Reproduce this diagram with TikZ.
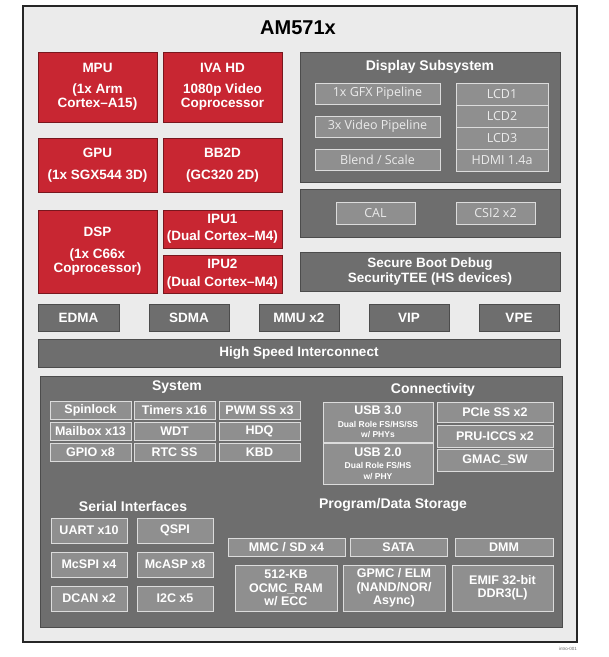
\documentclass[tikz,border=0pt]{standalone}
\usepackage{fontspec}
\setmainfont{Liberation Sans}
\newfontfamily\dispfont{Open Sans}
\newcommand{\usbsmall}{\fontsize{8.5}{9}\selectfont}
\definecolor{tired}{RGB}{200,38,50}
\definecolor{chipbg}{RGB}{235,235,235}
\definecolor{panelgray}{RGB}{110,110,110}
\definecolor{cellgray}{RGB}{143,143,143}
\definecolor{cellline}{RGB}{220,220,220}
\begin{document}
\begin{tikzpicture}[x=1pt,y=-1pt,
  wh/.style 2 args={minimum width=#1pt, minimum height=#2pt},
  frame/.style={draw=black!85, fill=chipbg, line width=1.2pt, inner sep=0pt},
  redbox/.style={draw=tired!60!black, fill=tired, text=white, line width=0.6pt, inner sep=0pt, align=center, font=\bfseries\fontsize{13.5}{14.5}\selectfont},
  panel/.style={draw=black!70, fill=panelgray, line width=0.7pt, inner sep=0pt, text=white, align=center, font=\bfseries\fontsize{13.5}{14.5}\selectfont},
  ptitle/.style={text=white, inner sep=0pt, font=\bfseries\fontsize{14}{15}\selectfont},
  cell/.style={draw=cellline, fill=cellgray, line width=0.9pt, inner sep=0pt, text=white, align=center, font=\bfseries\fontsize{12.5}{13.5}\selectfont},
  dcell/.style={cell, text=white!92!black, font=\dispfont\fontsize{12.5}{13}\selectfont}
]
\useasboundingbox (0,0) rectangle (609,657);

% chip outline
\node[frame, wh={554}{636}] (chip) at (300,324) {};
\node[inner sep=0pt, font=\bfseries\fontsize{20}{22}\selectfont] (name) at (298,28) {AM571x};

% cores
\node[redbox, wh={119}{70}] (mpu) at (97.5,87) {MPU\\[6pt](1x Arm\\Cortex--A15)};
\node[redbox, wh={119}{70}] (iva) at (222.5,87) {IVA HD\\[6pt]1080p Video\\Coprocessor};
\node[redbox, wh={119}{54}] (gpu) at (97.5,165) {GPU\\[7pt](1x SGX544 3D)};
\node[redbox, wh={119}{54}] (bb2d) at (222.5,165) {BB2D\\[7pt](GC320 2D)};
\node[redbox, wh={119}{83}] (dsp) at (97.5,251.5) {DSP\\[7pt](1x C66x\\Coprocessor)};
\node[redbox, wh={119}{38}] (ipu1) at (222.5,229) {IPU1\\[3pt](Dual Cortex--M4)};
\node[redbox, wh={119}{38}] (ipu2) at (222.5,274) {IPU2\\[3pt](Dual Cortex--M4)};

% display and camera
\node[panel, wh={260}{130}] (dss) at (430,117) {};
\node[ptitle] (dssT) at (430,67) {Display Subsystem};
\node[dcell, wh={125}{21}] (gfx) at (377.5,93.5) {1x GFX Pipeline};
\node[dcell, wh={125}{21}] (vid) at (377.5,126.5) {3x Video Pipeline};
\node[dcell, wh={125}{21}] (blend) at (377.5,159.5) {Blend / Scale};
\node[dcell, wh={92}{22}] (lcd1) at (502,94) {LCD1};
\node[dcell, wh={92}{22}] (lcd2) at (502,116) {LCD2};
\node[dcell, wh={92}{22}] (lcd3) at (502,138) {LCD3};
\node[dcell, wh={92}{22}] (hdmi) at (502,160) {HDMI 1.4a};
\node[panel, wh={260}{48}] (cam) at (430,213) {};
\node[dcell, wh={79}{22}] (cal) at (375.5,213) {CAL};
\node[dcell, wh={79}{22}] (csi) at (495.5,213) {CSI2 x2};
\node[panel, wh={260}{39}] (sec) at (430,271.5) {Secure Boot Debug\\SecurityTEE (HS devices)};

% dma row and interconnect
\node[panel, wh={81}{27}] (edma) at (78.5,317.5) {EDMA};
\node[panel, wh={80}{27}] (sdma) at (189,317.5) {SDMA};
\node[panel, wh={80}{27}] (mmu) at (299,317.5) {MMU x2};
\node[panel, wh={80}{27}] (vip) at (409,317.5) {VIP};
\node[panel, wh={80}{27}] (vpe) at (519,317.5) {VPE};
\node[panel, wh={522}{28}] (hsi) at (299,353) {High Speed Interconnect};

% peripherals
\node[panel, wh={522}{251}] (per) at (301,501.5) {};

\node[ptitle] (sysT) at (177,387) {System};
\node[cell, wh={81}{18}] (spin) at (90.5,410) {Spinlock};
\node[cell, wh={81}{18}] (tmr) at (174.5,410) {Timers x16};
\node[cell, wh={81}{18}] (pwm) at (259.5,410) {PWM SS x3};
\node[cell, wh={81}{18}] (mbox) at (90.5,431.5) {Mailbox x13};
\node[cell, wh={81}{18}] (wdt) at (174.5,431.5) {WDT};
\node[cell, wh={81}{18}] (hdq) at (259.5,431.5) {HDQ};
\node[cell, wh={81}{18}] (gpio) at (90.5,452.5) {GPIO x8};
\node[cell, wh={81}{18}] (rtc) at (174.5,452.5) {RTC SS};
\node[cell, wh={81}{18}] (kbd) at (259.5,452.5) {KBD};

\node[ptitle] (conT) at (433,390) {Connectivity};
\node[cell, wh={110}{40}] (usb3) at (378,422) {USB 3.0\\[-1pt]\usbsmall Dual Role FS/HS/SS\\[-3pt]\usbsmall w/ PHYs};
\node[cell, wh={110}{41}] (usb2) at (378,463.5) {USB 2.0\\[-1pt]\usbsmall Dual Role FS/HS\\[-3pt]\usbsmall w/ PHY};
\node[cell, wh={116}{20}] (pcie) at (495,412) {PCIe SS x2};
\node[cell, wh={116}{22}] (pru) at (495,436) {PRU-ICCS x2};
\node[cell, wh={116}{22}] (gmac) at (495,460) {GMAC\_SW};

\node[ptitle] (serT) at (133,506) {Serial Interfaces};
\node[cell, wh={76}{25}] (uart) at (89,530.5) {UART x10};
\node[cell, wh={76}{25}] (qspi) at (175,530.5) {QSPI};
\node[cell, wh={76}{25}] (mcspi) at (89,564.5) {McSPI x4};
\node[cell, wh={76}{25}] (mcasp) at (175,564.5) {McASP x8};
\node[cell, wh={76}{25}] (dcan) at (89,598.5) {DCAN x2};
\node[cell, wh={76}{25}] (i2c) at (175,598.5) {I2C x5};

\node[ptitle] (stoT) at (393,505) {Program/Data Storage};
\node[cell, wh={117}{18}] (mmc) at (286.5,547) {MMC / SD x4};
\node[cell, wh={97}{18}] (sata) at (398.5,547) {SATA};
\node[cell, wh={98}{18}] (dmm) at (504,547) {DMM};
\node[cell, wh={102}{46}] (ocmc) at (286,588) {512-KB\\OCMC\_RAM\\w/ ECC};
\node[cell, wh={102}{46}] (gpmc) at (394,588) {GPMC / ELM\\(NAND/NOR/\\Async)};
\node[cell, wh={101}{46}] (emif) at (502.5,588) {EMIF 32-bit\\DDR3(L)};

\node[anchor=east, inner sep=0pt, text=black!60, font=\fontsize{4.5}{5}\selectfont] (fig) at (577,649) {intro-001};
\end{tikzpicture}
\end{document}
